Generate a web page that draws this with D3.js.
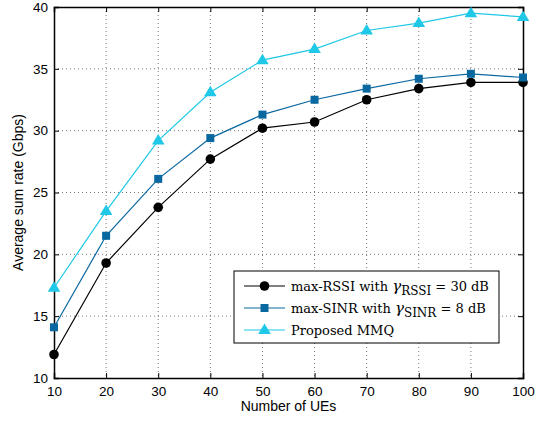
<!DOCTYPE html>
<html>
<head>
<meta charset="utf-8">
<script src="https://cdn.jsdelivr.net/npm/d3@7"></script>
<style>
  body { margin: 0; background: #fff; }
  svg { display: block; }
</style>
</head>
<body>
<svg id="chart" width="544" height="422"></svg>
<script>
const ues = [10, 20, 30, 40, 50, 60, 70, 80, 90, 100]
const maxRssi = [11.9, 19.3, 23.8, 27.7, 30.2, 30.7, 32.5, 33.4, 33.9, 33.9]
const maxSinr = [14.1, 21.5, 26.1, 29.4, 31.3, 32.5, 33.4, 34.2, 34.6, 34.3]
const proposed = [17.3, 23.5, 29.2, 33.1, 35.7, 36.6, 38.1, 38.7, 39.5, 39.2]
const xTicks = [10, 20, 30, 40, 50, 60, 70, 80, 90, 100]
const yTicks = [10, 15, 20, 25, 30, 35, 40]

const series = [
  {name: "max-RSSI with ", sym: "RSSI", tail: " = 30 dB", values: maxRssi, color: "#000000", marker: "circle"},
  {name: "max-SINR with ", sym: "SINR", tail: " = 8 dB", values: maxSinr, color: "#0a68a0", marker: "square"},
  {name: "Proposed MMQ", values: proposed, color: "#1fc8e6", marker: "triangle"}
]

const plotL = 54, plotR = 523, plotT = 7, plotB = 378
const svg = d3.select("#chart")

const x = d3.scaleLinear().domain([10, 100]).range([plotL, plotR])
const y = d3.scaleLinear().domain([10, 40]).range([plotB, plotT])

// dotted grid
svg.append("g").selectAll("line")
  .data(xTicks.slice(1, -1))
  .join("line")
  .attr("x1", d => x(d)).attr("x2", d => x(d))
  .attr("y1", plotT).attr("y2", plotB)
  .attr("stroke", "#555").attr("stroke-width", 0.8)
  .attr("stroke-dasharray", "1,3")

svg.append("g").selectAll("line")
  .data(yTicks.slice(1, -1))
  .join("line")
  .attr("y1", d => y(d)).attr("y2", d => y(d))
  .attr("x1", plotL).attr("x2", plotR)
  .attr("stroke", "#555").attr("stroke-width", 0.8)
  .attr("stroke-dasharray", "1,3")

// axes with inward ticks, mirrored on top and right
const tickFont = "Liberation Sans, Arial, sans-serif"
svg.append("g")
  .attr("transform", `translate(0,${plotB})`)
  .call(d3.axisBottom(x).tickValues(xTicks).tickSize(-5).tickPadding(8))
svg.append("g")
  .attr("transform", `translate(${plotL},0)`)
  .call(d3.axisLeft(y).tickValues(yTicks).tickSize(-5).tickPadding(6))
svg.append("g")
  .attr("transform", `translate(0,${plotT})`)
  .call(d3.axisTop(x).tickValues(xTicks).tickSize(-5).tickFormat(""))
svg.append("g")
  .attr("transform", `translate(${plotR},0)`)
  .call(d3.axisRight(y).tickValues(yTicks).tickSize(-5).tickFormat(""))

svg.selectAll(".domain").attr("stroke", "#000").attr("stroke-width", 1.5)
svg.selectAll(".tick line").attr("stroke", "#000")
svg.selectAll(".tick text")
  .attr("font-family", tickFont).attr("font-size", 13.5).attr("fill", "#000")

// series
const line = d3.line().x((d, i) => x(ues[i])).y(d => y(d))

function drawMarker(g, kind, color) {
  if (kind === "circle") {
    g.append("circle").attr("r", 4.8).attr("fill", color)
  } else if (kind === "square") {
    g.append("rect").attr("x", -4).attr("y", -4).attr("width", 8).attr("height", 8).attr("fill", color)
  } else {
    g.append("path").attr("d", "M0,-6.5L6.3,4L-6.3,4Z").attr("fill", color)
  }
}

series.forEach(s => {
  svg.append("path")
    .datum(s.values)
    .attr("d", line)
    .attr("fill", "none")
    .attr("stroke", s.color)
    .attr("stroke-width", 1.2)
  s.values.forEach((v, i) => {
    const g = svg.append("g").attr("transform", `translate(${x(ues[i])},${y(v)})`)
    drawMarker(g, s.marker, s.color)
  })
})

// legend
const legend = svg.append("g")
legend.append("rect")
  .attr("x", 234).attr("y", 271).attr("width", 265).attr("height", 72)
  .attr("fill", "#fff").attr("stroke", "#000").attr("stroke-width", 1)

const serif = "DejaVu Serif, serif"
series.forEach((s, i) => {
  const ly = 286 + i * 22
  legend.append("line")
    .attr("x1", 244).attr("x2", 285).attr("y1", ly).attr("y2", ly)
    .attr("stroke", s.color).attr("stroke-width", 1.2)
  drawMarker(legend.append("g").attr("transform", `translate(264.5,${ly})`), s.marker, s.color)
  const t = legend.append("text")
    .attr("x", 291).attr("y", ly + 4.5)
    .attr("font-family", serif).attr("font-size", 13).attr("fill", "#000")
  t.append("tspan").text(s.name)
  if (s.sym) {
    t.append("tspan").attr("font-style", "italic").attr("font-size", 15).text("γ")
    t.append("tspan").attr("dy", 4).attr("font-size", 12).text(s.sym)
    t.append("tspan").attr("dy", -4).text(s.tail)
  }
})

// axis titles
svg.append("text")
  .attr("x", (plotL + plotR) / 2).attr("y", 411)
  .attr("text-anchor", "middle")
  .attr("font-family", tickFont).attr("font-size", 14)
  .text("Number of UEs")

svg.append("text")
  .attr("transform", `translate(23,${(plotT + plotB) / 2}) rotate(-90)`)
  .attr("text-anchor", "middle")
  .attr("font-family", tickFont).attr("font-size", 14)
  .text("Average sum rate (Gbps)")
</script>
</body>
</html>
